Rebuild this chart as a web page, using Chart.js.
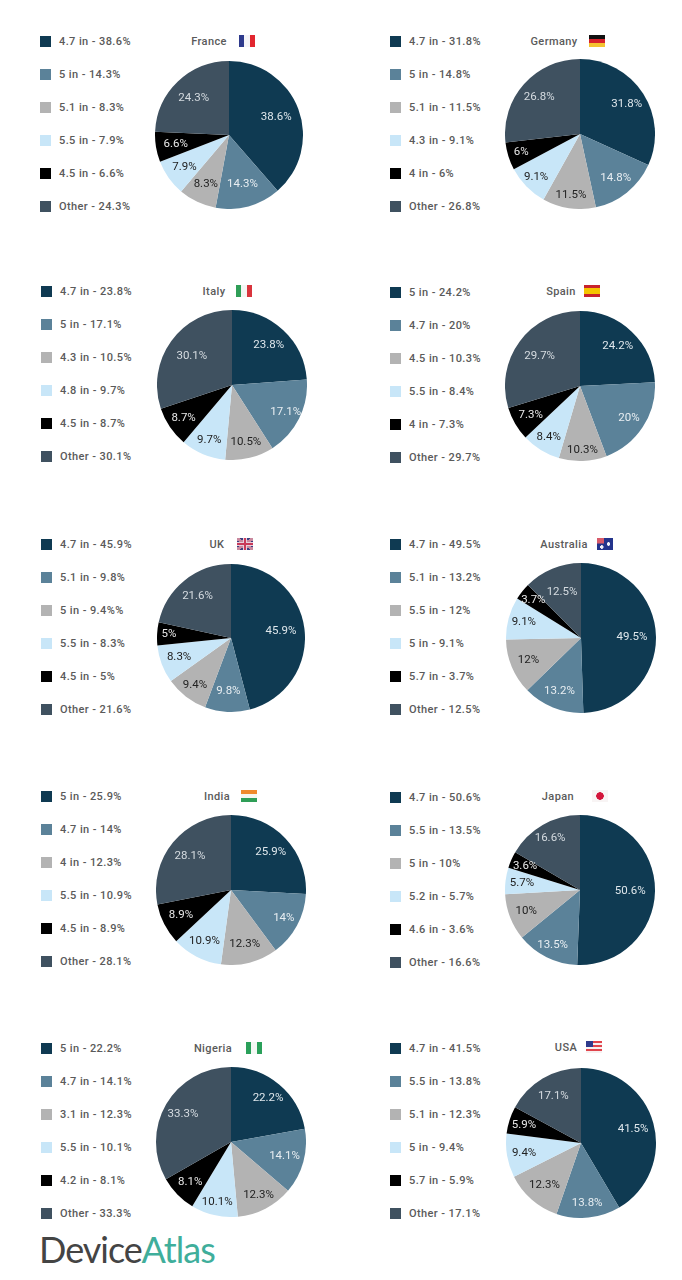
<!DOCTYPE html>
<html>
<head>
<meta charset="utf-8">
<title>Screen sizes by country</title>
<script src="https://cdn.jsdelivr.net/npm/chart.js@4/dist/chart.umd.min.js"></script>
<style>
  html, body { margin: 0; background: #fff; }
  #page { position: relative; width: 682px; height: 1280px; overflow: hidden; font-family: Roboto, sans-serif; color: #5a5a5a; }
  #page canvas { position: absolute; }
  .swatch { position: absolute; width: 11px; height: 11px; }
  .row, .title { position: absolute; font-size: 11px; font-weight: 500; letter-spacing: .4px; line-height: 14px; white-space: nowrap; }
  .title { transform: translateX(-50%); }
  .flag { position: absolute; width: 16px; height: 12px; }
  #logo { position: absolute; left: 39px; top: 1227px; font: 400 36px/44px Lato, sans-serif; letter-spacing: -1px; color: #444; }
  #logo span { color: #3fae9b; }
</style>
</head>
<body>
<div id="page">
  <div id="logo">Device<span>Atlas</span></div>
</div>
<script>
/* ================= DATA ================= */
const sliceColors = ["#0f3a52", "#5b8299", "#b3b3b3", "#c8e6f8", "#000000", "#3f5160"];
const sliceTextColors = ["#dfe7ec", "#e8eef2", "#222222", "#222222", "#e8e8e8", "#d5dbe0"];

const franceSizes = ["4.7 in", "5 in", "5.1 in", "5.5 in", "4.5 in", "Other"];
const franceValues = [38.6, 14.3, 8.3, 7.9, 6.6, 24.3];
const germanySizes = ["4.7 in", "5 in", "5.1 in", "4.3 in", "4 in", "Other"];
const germanyValues = [31.8, 14.8, 11.5, 9.1, 6, 26.8];
const italySizes = ["4.7 in", "5 in", "4.3 in", "4.8 in", "4.5 in", "Other"];
const italyValues = [23.8, 17.1, 10.5, 9.7, 8.7, 30.1];
const spainSizes = ["5 in", "4.7 in", "4.5 in", "5.5 in", "4 in", "Other"];
const spainValues = [24.2, 20, 10.3, 8.4, 7.3, 29.7];
const ukSizes = ["4.7 in", "5.1 in", "5 in", "5.5 in", "4.5 in", "Other"];
const ukValues = [45.9, 9.8, 9.4, 8.3, 5, 21.6];
const australiaSizes = ["4.7 in", "5.1 in", "5.5 in", "5 in", "5.7 in", "Other"];
const australiaValues = [49.5, 13.2, 12, 9.1, 3.7, 12.5];
const indiaSizes = ["5 in", "4.7 in", "4 in", "5.5 in", "4.5 in", "Other"];
const indiaValues = [25.9, 14, 12.3, 10.9, 8.9, 28.1];
const japanSizes = ["4.7 in", "5.5 in", "5 in", "5.2 in", "4.6 in", "Other"];
const japanValues = [50.6, 13.5, 10, 5.7, 3.6, 16.6];
const nigeriaSizes = ["5 in", "4.7 in", "3.1 in", "5.5 in", "4.2 in", "Other"];
const nigeriaValues = [22.2, 14.1, 12.3, 10.1, 8.1, 33.3];
const usaSizes = ["4.7 in", "5.5 in", "5.1 in", "5 in", "5.7 in", "Other"];
const usaValues = [41.5, 13.8, 12.3, 9.4, 5.9, 17.1];

/* ================= FLAGS ================= */
function stripes(dir, colors) {
  const step = 100 / colors.length;
  const stops = colors.map((c, i) => `${c} ${i * step}% ${(i + 1) * step}%`);
  return `linear-gradient(${dir}, ${stops.join(", ")})`;
}

const flags = {
  France: stripes("to right", ["#2e3a8c", "#f4f4f8", "#e2262f"]),
  Germany: stripes("to bottom", ["#111", "#d8222a", "#f4c430"]),
  Italy: stripes("to right", ["#2f9e57", "#f4f6f4", "#d9343c"]),
  Spain: "linear-gradient(to bottom, #c8232c 0 28%, #f5c400 28% 72%, #c8232c 72%)",
  UK: "linear-gradient(to bottom, transparent 42%, #c9395a 42% 58%, transparent 58%), linear-gradient(to right, transparent 42%, #c9395a 42% 58%, transparent 58%), linear-gradient(to bottom, transparent 34%, #e6cfdc 34% 66%, transparent 66%), linear-gradient(to right, transparent 36%, #e6cfdc 36% 64%, transparent 64%), linear-gradient(34deg, transparent 42%, #c9899f 42% 58%, transparent 58%), linear-gradient(-34deg, transparent 42%, #c9899f 42% 58%, transparent 58%), #3a3f80",
  Australia: "radial-gradient(circle at 72% 50%, #f2f2f8 0 1.5px, transparent 2px), radial-gradient(circle at 30% 75%, #f2f2f8 0 1.5px, transparent 2px), linear-gradient(to right, #d85a6a 0 46%, transparent 46%) 0 0 / 100% 46% no-repeat, #23348c",
  India: stripes("to bottom", ["#f08a2c", "#f6f6f0", "#2f9e57"]),
  Japan: "radial-gradient(circle at 50% 50%, #d3143a 0 3.5px, #f8f4f4 4px)",
  Nigeria: stripes("to right", ["#2aa05a", "#f4f8f4", "#2aa05a"]),
  USA: "linear-gradient(to right, #2e3a8c 0 42%, transparent 42%) 0 0 / 100% 50% no-repeat, repeating-linear-gradient(to bottom, #e0444c 0 2px, #f7f0f0 2px 4px)"
};

/* ================= LAYOUT ================= */
// cx/cy/r = pie, legendY = first legend row, titleX/flagX = header positions,
// reach = how far out each slice label sits, as a fraction of the radius
const panels = [
  { name: "France", sizes: franceSizes, values: franceValues, cx: 229, cy: 135, r: 74, legendX: 40, legendY: 41, titleX: 209, titleY: 41, flagX: 239, reach: [.68, .69, .73, .74, .73, .69] },
  { name: "Germany", sizes: germanySizes, values: germanyValues, cx: 580, cy: 134, r: 75, legendX: 390, legendY: 41, titleX: 554, titleY: 41, flagX: 589, reach: [.74, .76, .82, .82, .82, .73] },
  { name: "Italy", sizes: italySizes, values: italyValues, cx: 232, cy: 385, r: 75, legendX: 41, legendY: 291, titleX: 214, titleY: 291, flagX: 236, reach: [.72, .8, .78, .79, .78, .66] },
  { name: "Spain", sizes: spainSizes, values: spainValues, cx: 580, cy: 386, r: 75, legendX: 390, legendY: 292, titleX: 561, titleY: 291, flagX: 584, reach: [.73, .78, .85, .8, .76, .67] },
  { name: "UK", sizes: ukSizes, values: ukValues, cx: 231, cy: 638, r: 74, legendX: 41, legendY: 544, titleX: 217, titleY: 544, flagX: 237, reach: [.68, .72, .8, .75, .84, .72] },
  { name: "Australia", sizes: australiaSizes, values: australiaValues, cx: 581, cy: 638, r: 75, legendX: 390, legendY: 544, titleX: 564, titleY: 544, flagX: 597, reach: [.68, .77, .76, .79, .81, .66] },
  { name: "India", sizes: indiaSizes, values: indiaValues, cx: 231, cy: 890, r: 75, legendX: 41, legendY: 796, titleX: 217, titleY: 796, flagX: 241, reach: [.73, .8, .74, .77, .75, .71] },
  { name: "Japan", sizes: japanSizes, values: japanValues, cx: 580, cy: 890, r: 75, legendX: 390, legendY: 797, titleX: 558, titleY: 796, flagX: 592, reach: [.67, .82, .77, .78, .8, .8] },
  { name: "Nigeria", sizes: nigeriaSizes, values: nigeriaValues, cx: 231, cy: 1142, r: 75, legendX: 41, legendY: 1048, titleX: 213, titleY: 1048, flagX: 246, reach: [.77, .74, .8, .82, .76, .74] },
  { name: "USA", sizes: usaSizes, values: usaValues, cx: 581, cy: 1143, r: 75, legendX: 390, legendY: 1048, titleX: 566, titleY: 1047, flagX: 586, reach: [.72, .81, .74, .77, .8, .72] }
];

const ROW_STEP = 33;
const page = document.getElementById("page");

function addDiv(className, left, top, text) {
  const el = document.createElement("div");
  el.className = className;
  el.style.left = left + "px";
  el.style.top = top + "px";
  if (text) el.textContent = text;
  page.appendChild(el);
  return el;
}

/* ================= SLICE LABELS ================= */
const sliceLabels = {
  id: "sliceLabels",
  afterDatasetsDraw(chart, args, opts) {
    const ctx = chart.ctx;
    const values = chart.data.datasets[0].data;
    ctx.save();
    ctx.font = "400 11.5px Roboto, sans-serif";
    ctx.textAlign = "center";
    ctx.textBaseline = "middle";
    chart.getDatasetMeta(0).data.forEach((arc, i) => {
      const mid = (arc.startAngle + arc.endAngle) / 2;
      const dist = arc.outerRadius * opts.reach[i];
      ctx.fillStyle = sliceTextColors[i];
      ctx.fillText(values[i] + "%", arc.x + Math.cos(mid) * dist, arc.y + Math.sin(mid) * dist);
    });
    ctx.restore();
  }
};

/* ================= DRAW PANELS ================= */
panels.forEach(p => {
  p.sizes.forEach((size, i) => {
    const y = p.legendY + i * ROW_STEP;
    const swatch = addDiv("swatch", p.legendX, y - 5);
    swatch.style.background = sliceColors[i];
    let text = `${size} - ${p.values[i]}%`;
    if (p.name === "UK" && size === "5 in") text += "%"; // typo is in the original
    addDiv("row", p.legendX + 19, y - 6, text);
  });

  addDiv("title", p.titleX, p.titleY - 6, p.name);
  addDiv("flag", p.flagX, p.titleY - 6).style.background = flags[p.name];

  const canvas = document.createElement("canvas");
  canvas.style.left = (p.cx - p.r) + "px";
  canvas.style.top = (p.cy - p.r) + "px";
  page.appendChild(canvas);

  new Chart(canvas, {
    type: "pie",
    data: {
      labels: p.sizes,
      datasets: [{
        data: p.values,
        backgroundColor: sliceColors,
        borderWidth: 0,
        hoverOffset: 0
      }]
    },
    options: {
      responsive: false,
      animation: false,
      events: [],
      plugins: {
        legend: { display: false },
        tooltip: { enabled: false },
        sliceLabels: { reach: p.reach }
      }
    },
    plugins: [sliceLabels]
  }).resize(p.r * 2, p.r * 2);
});
</script>
</body>
</html>
